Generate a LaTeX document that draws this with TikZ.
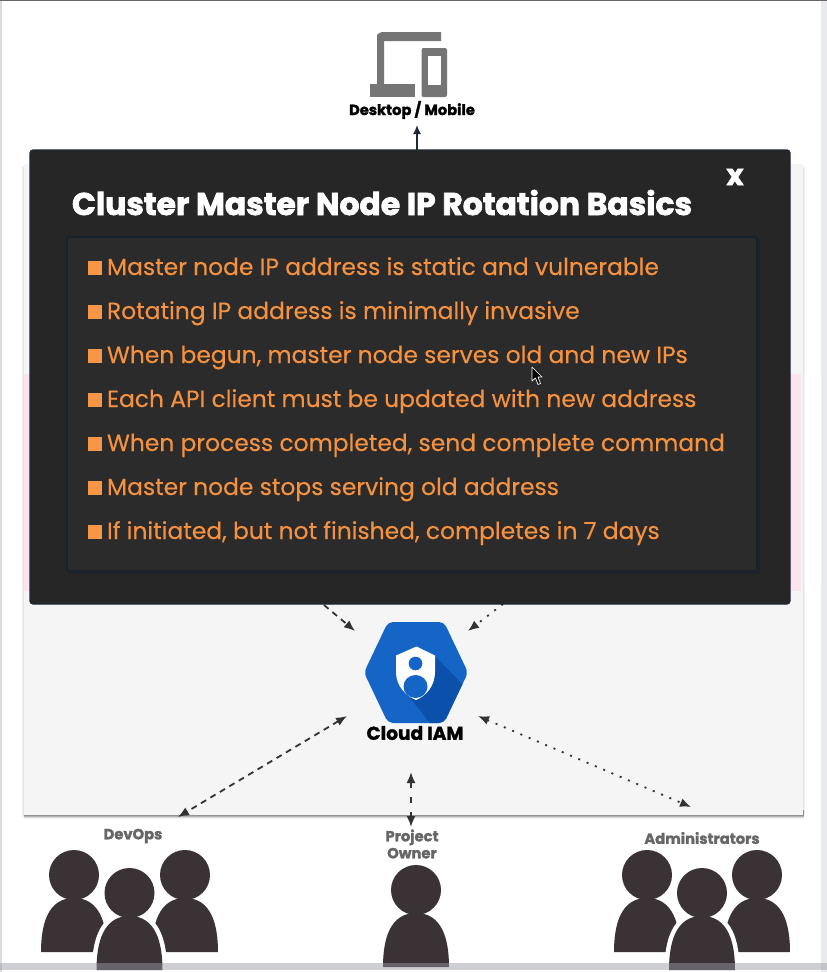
\documentclass[tikz,border=0pt]{standalone}
\usepackage{fontspec}
\setmainfont[FakeBold=0.25]{Poppins}
\usetikzlibrary{arrows.meta}
\newfontfamily\blackfont[UprightFont=* Bold,FakeBold=1.5]{Poppins}
\newfontfamily\titlefont[UprightFont=* Bold,FakeBold=2.2]{Poppins}
\definecolor{bulletc}{HTML}{F79646}
\definecolor{textc}{HTML}{F6923F}
\definecolor{dlgfill}{HTML}{262626}
\definecolor{dlgedge}{HTML}{1C2733}
\definecolor{innerfill}{HTML}{2B2B2B}
\definecolor{inneredge}{HTML}{18222C}
\definecolor{panelc}{HTML}{F5F5F5}
\definecolor{pinkc}{HTML}{FBE4EC}
\definecolor{personc}{HTML}{3B3236}
\definecolor{iconc}{HTML}{757575}
\definecolor{iamblue}{HTML}{1565C6}
\definecolor{iamdark}{HTML}{0B50AB}
\definecolor{connc}{HTML}{333333}
\definecolor{navyc}{HTML}{1B2A3A}
\definecolor{bandc}{RGB}{150,155,165}
\definecolor{edgec}{HTML}{E8EAEE}
\tikzset{
  tx/.style={inner sep=0pt,outer sep=0pt},
  bulletline/.style={tx,anchor=base west,text=textc,font=\fontsize{23.4}{26}\selectfont},
  bulletbox/.style={fill=bulletc,draw=none,minimum width=14pt,minimum height=14pt,inner sep=0pt},
  greylabel/.style={tx,text=black!60,align=center,font=\blackfont\fontsize{14.7}{17}\selectfont},
  conn/.style={draw=connc,line width=1.8pt,{Latex[length=11pt,width=9pt]}-{Latex[length=11pt,width=9pt]}},
  conntip/.style={draw=connc,line width=1.8pt,-{Latex[length=11pt,width=9pt]}},
  dashy/.style={dash pattern=on 6pt off 5pt},
  dotty/.style={dash pattern=on 2pt off 7pt},
  sparse/.style={dash pattern=on 6pt off 9pt},
  person/.pic={
    \fill[personc] (0,-77) circle (25);
    \fill[personc] (-33,0) .. controls (-33,-28) and (-26,-54) .. (0,-54)
       .. controls (26,-54) and (33,-28) .. (33,0) -- cycle;
  },
  halo/.pic={
    \path[fill=white,draw=white,line width=9pt] (-33,0) .. controls (-33,-28) and (-26,-54) .. (0,-54)
       .. controls (26,-54) and (33,-28) .. (33,0) -- cycle;
  },
}
\begin{document}
\begin{tikzpicture}[x=1pt,y=-1pt]
\useasboundingbox (0,0) rectangle (827,972);
\fill[white] (0,0) rectangle (827,972);
% page edges
\fill[black!14] (0,0) rectangle (2,972);
\fill[edgec] (821,0) rectangle (827,972);
\fill[black!60] (0,0) rectangle (827,1);
% panel
\fill[black,opacity=.05] (22,166) rectangle (805,817);
\fill[black,opacity=.06] (23,167) rectangle (804,816);
\fill[black,opacity=.05] (24,810) rectangle (804,819);
\fill[black,opacity=.1] (24,810) rectangle (804,818);
\fill[black,opacity=.13] (24,810) rectangle (804,817);
\fill[black,opacity=.13] (24,810) rectangle (804,816);
\fill[panelc] (24,164) rectangle (803,815);
\fill[pinkc] (24,374) rectangle (801,591);
% icon
\fill[iconc,rounded corners=2pt] (441,32) -- (380,32) [sharp corners] -- (377,35) -- (377,85) -- (384,85) -- (384,41) -- (441,41) -- cycle;
\fill[iconc] (370,84) rectangle (415,97);
\fill[iconc,rounded corners=2pt] (421.5,48) rectangle (447,97);
\fill[white] (428,56) rectangle (441,85);
\node[tx,font=\blackfont\fontsize{14.7}{16}\selectfont] (device) at (412,110) {Desktop / Mobile};
% connectors into the IAM
\coordinate (upfrom) at (417,150); \coordinate (upto) at (417,125);
\draw[draw=navyc,line width=1.6pt,-{Latex[length=9pt,width=8pt]}] (upfrom) -- (upto);
\coordinate (a1) at (324,605); \coordinate (a2) at (355,631);
\draw[conntip,dashy] (a1) -- (a2);
\coordinate (b1) at (503,604); \coordinate (b2) at (468,631);
\draw[conntip,dotty] (b1) -- (b2);
% IAM hexagon
\fill[iamblue,rounded corners=5pt] (388,622) -- (444,622) -- (468,672.5) -- (444,723) -- (388,723) -- (364,672.5) -- cycle;
\begin{scope}
\clip[rounded corners=5pt] (388,622) -- (444,622) -- (468,672.5) -- (444,723) -- (388,723) -- (364,672.5) -- cycle;
\fill[iamdark] (435,656) -- (465,687) -- (470,730) -- (437,730) -- (430,723) -- (411,699) -- cycle;
\end{scope}
\fill[white] (416.5,646.5) -- (396,655.5) -- (396,672) .. controls (396,686) and (406,696) .. (416,700)
   .. controls (426,696) and (435,686) .. (435,672) -- (435,655.5) -- cycle;
\fill[iamblue] (415.5,663.5) circle (6.8);
\fill[iamblue] (415.5,686.5) ellipse (12 and 11.5);
\node[tx,font=\blackfont\fontsize{18.6}{22}\selectfont] (iamlabel) at (415,733) {Cloud IAM};
% dialog
\fill[dlgfill,draw=dlgedge,line width=1.2pt,rounded corners=3pt] (30,150) rectangle (790,604);
\fill[inneredge,opacity=.55] (69,239) rectangle (760,574);
\fill[innerfill,draw=inneredge,line width=1.6pt,rounded corners=1.5pt] (67,237) rectangle (757,571);
\node[tx,anchor=base west,text=white,font=\titlefont\fontsize{31.4}{34}\selectfont] (title) at (72,215) {Cluster Master Node IP Rotation Basics};
\node[tx,text=white,font=\titlefont\fontsize{29}{30}\selectfont] (close) at (735,177) {x};
\foreach \yy/\nn/\txt in {
  275/l1/Master node IP address is static and vulnerable,
  319/l2/Rotating IP address is minimally invasive,
  363/l3/{When begun, master node serves old and new IPs},
  407/l4/Each API client must be updated with new address,
  451/l5/{When process completed, send complete command},
  495/l6/Master node stops serving old address,
  539/l7/{If initiated, but not finished, completes in 7 days}}{
  \node[bulletbox] (b\nn) at (95,\yy-7) {};
  \node[bulletline] (\nn) at (107,\yy) {\txt};
}
% cursor
\draw[draw=white,fill=black,line width=.7pt,line join=round] (532,367) -- (532,381) -- (535.5,378) -- (538,384.5) -- (540.5,383.5) -- (538,377) -- (542,377) -- cycle;
% connectors to people
\coordinate (c1) at (347,716); \coordinate (c2) at (178,817);
\draw[conn,dashy] (c1) -- (c2);
\coordinate (d1) at (478,716); \coordinate (d2) at (691,807);
\draw[conn,dotty] (d1) -- (d2);
\coordinate (e1) at (411,772); \coordinate (e2) at (411,827);
\draw[conn,sparse] (e1) -- (e2);
% labels
\node[greylabel] (devops) at (133,836) {DevOps};
\node[greylabel] (owner) at (412,844) {Project\\Owner};
\node[greylabel] (admins) at (702,838) {Administrators};
% people
\pic at (74,952) {person};
\pic at (185,952) {person};
\pic at (129.5,970) {halo};
\pic at (129.5,970) {person};
\pic at (416,967) {person};
\pic at (647,952) {person};
\pic at (757,952) {person};
\pic at (702,970) {halo};
\pic at (702,970) {person};
% bottom band
\fill[bandc,opacity=.475] (0,963) rectangle (827,970);
\end{tikzpicture}
\end{document}
